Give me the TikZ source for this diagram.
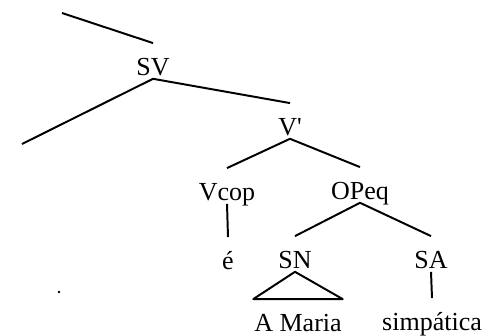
\documentclass[tikz,border=0pt]{standalone}
\usepackage{fontspec}
\setmainfont{Liberation Serif}

\begin{document}
\begin{tikzpicture}[x=0.025cm,y=-0.025cm,line width=1.4pt,line join=round,
    font=\fontsize{18.5}{20}\selectfont,
    cat/.style={anchor=base,inner sep=0pt,text height=22pt,text depth=2pt}]
  \useasboundingbox (0,0) rectangle (484,335);
  \node[cat] (sv) at (153,75) {SV};
  \node[cat] (vbar) at (290,135) {V\textquotesingle};
  \node[cat] (vcop) at (227,200) {Vcop};
  \node[cat] (opeq) at (360,199) {OPeq};
  \node[cat] (e) at (228,269) {é};
  \node[cat] (sn) at (295,268) {SN};
  \node[cat] (sa) at (431,268) {SA};
  \node[cat] (amaria) at (298,331) {A Maria};
  \node[cat] (simp) at (432,330) {simpática};
  \coordinate (up) at (62,13);
  \coordinate (spec) at (22,144);

  \draw (up) -- (sv.north);
  \draw (spec) -- (sv.south) -- (vbar.north);
  \draw (vcop.north) -- (vbar.south) -- (opeq.north);
  \draw (vcop.south) -- (e.north);
  \draw (sn.north) -- (opeq.south) -- (sa.north);
  \draw (sa.south) -- (simp.north);
  \draw (sn.south) -- (amaria.north west) -- (amaria.north east) -- cycle;
  \fill (59,292) circle (1.3);
\end{tikzpicture}
\end{document}
